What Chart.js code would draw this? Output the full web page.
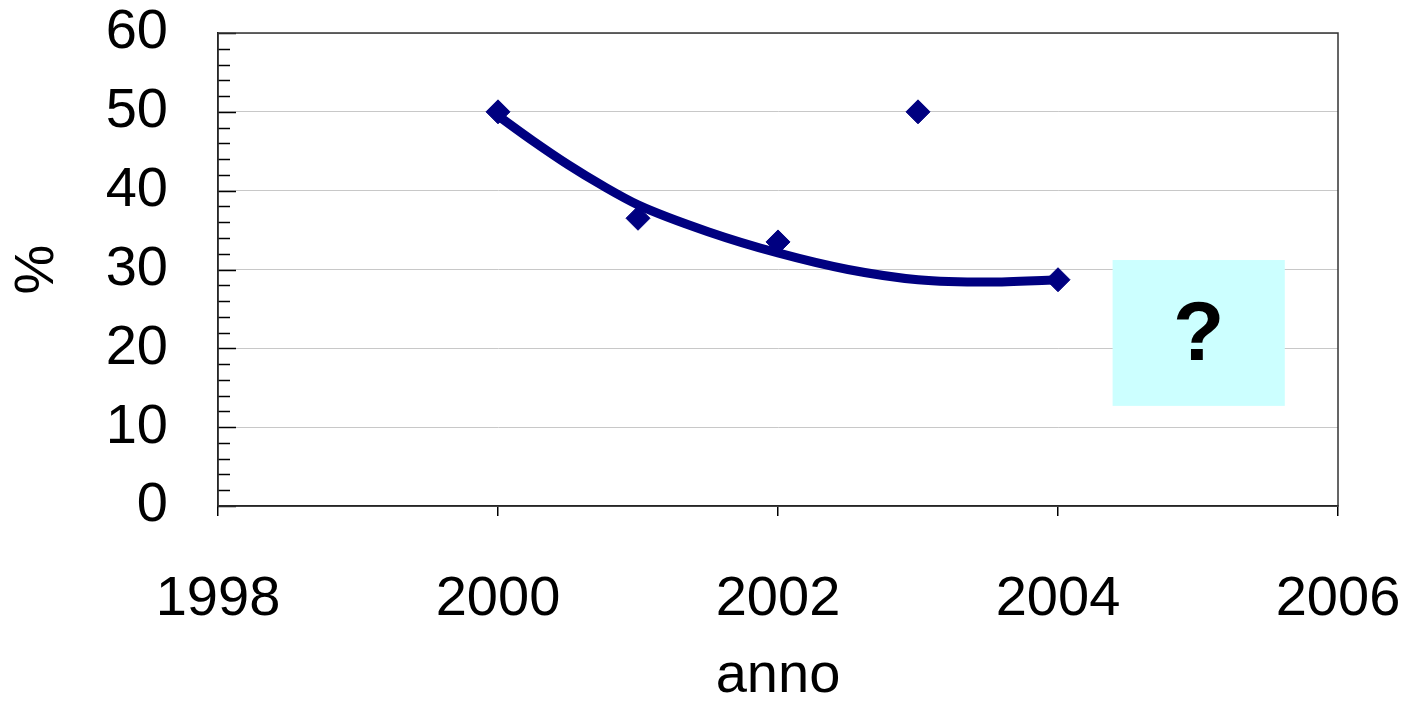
<!DOCTYPE html>
<html>
<head>
<meta charset="utf-8">
<script src="https://cdn.jsdelivr.net/npm/chart.js@4"></script>
<style>
  body { margin: 0; background: #fff; }
  #wrap { width: 1411px; height: 714px; }
</style>
</head>
<body>
<div id="wrap"><canvas id="chart"></canvas></div>
<script>
// observed values
const years = [2000, 2001, 2002, 2003, 2004];
const percent = [50, 36.5, 33.5, 50, 28.7];

// trend curve
const trendYears = [2000, 2000.25, 2000.5, 2000.75, 2001, 2001.5, 2002, 2002.5, 2003, 2003.5, 2004];
const trendValues = [49.5, 46.3, 43.3, 40.6, 38.2, 34.8, 32.1, 30, 28.7, 28.4, 28.7];

const xTicks = [1998, 2000, 2002, 2004, 2006];

// the "?" box, in data units
const boxX = [2004.39, 2005.62];
const boxY = [12.7, 31.2];

const font = 'Liberation Sans, Arial, sans-serif';

const framePlugin = {
    id: 'frame',
    beforeDatasetsDraw(chart) {
        const ctx = chart.ctx, a = chart.chartArea;
        const xs = chart.scales.x, ys = chart.scales.y;
        ctx.save();
        // minor and major ticks inside the plot
        ctx.strokeStyle = '#000';
        ctx.lineWidth = 1.5;
        for (let v = 0; v <= 60; v += 2) {
            const py = Math.round(ys.getPixelForValue(v)) + 0.5;
            const len = v % 10 === 0 ? 18 : 12;
            ctx.beginPath();
            ctx.moveTo(a.left, py);
            ctx.lineTo(a.left + len, py);
            ctx.stroke();
        }
        // question box
        const x0 = xs.getPixelForValue(boxX[0]), x1 = xs.getPixelForValue(boxX[1]);
        const y0 = ys.getPixelForValue(boxY[1]), y1 = ys.getPixelForValue(boxY[0]);
        ctx.fillStyle = '#ccffff';
        ctx.fillRect(x0, y0, x1 - x0, y1 - y0);
        ctx.fillStyle = '#000';
        ctx.font = 'bold 84px ' + font;
        ctx.textAlign = 'center';
        ctx.textBaseline = 'middle';
        ctx.fillText('?', (x0 + x1) / 2, (y0 + y1) / 2 + 4);
        // frame
        ctx.strokeStyle = '#333';
        ctx.lineWidth = 1.5;
        ctx.strokeRect(a.left, a.top, a.right - a.left, a.bottom - a.top);
        ctx.restore();
    }
};

new Chart(document.getElementById('chart'), {
    type: 'scatter',
    data: {
        datasets: [
            {
                type: 'line',
                data: trendYears.map((x, i) => ({ x: x, y: trendValues[i] })),
                borderColor: '#000080',
                borderWidth: 9,
                pointRadius: 0,
                cubicInterpolationMode: 'monotone',
                fill: false
            },
            {
                data: years.map((x, i) => ({ x: x, y: percent[i] })),
                backgroundColor: '#000080',
                borderColor: '#000080',
                pointStyle: 'rectRot',
                pointRadius: 12
            }
        ]
    },
    options: {
        responsive: true,
        maintainAspectRatio: false,
        animation: false,
        layout: { padding: { top: 33, right: 73, left: 0, bottom: 0 } },
        plugins: { legend: { display: false }, tooltip: { enabled: false } },
        scales: {
            x: {
                type: 'linear',
                min: 1998, max: 2006,
                afterBuildTicks(s) { s.ticks = xTicks.map(v => ({ value: v })); },
                afterFit(s) { s.height = 208; s.paddingLeft = 0; s.paddingRight = 0; },
                grid: { display: true, drawOnChartArea: false, color: '#000', tickLength: 10, lineWidth: 1.5 },
                border: { color: '#000', width: 1.5 },
                ticks: { color: '#000', font: { family: font, size: 56 }, padding: 50, maxRotation: 0, callback: v => String(v) },
                title: { display: true, text: 'anno', color: '#000', font: { family: font, size: 56 }, padding: { top: 36 } }
            },
            y: {
                min: 0, max: 60,
                afterFit(s) { s.width = 218; s.paddingTop = 0; s.paddingBottom = 0; },
                grid: { color: '#c8c8c8', lineWidth: 1, drawTicks: false },
                border: { color: '#000', width: 1.5 },
                ticks: { stepSize: 10, color: '#000', font: { family: font, size: 56 }, padding: 50 },
                title: { display: true, text: '%', color: '#000', font: { family: font, size: 56 }, padding: 4 }
            }
        }
    },
    plugins: [framePlugin]
});
</script>
</body>
</html>
